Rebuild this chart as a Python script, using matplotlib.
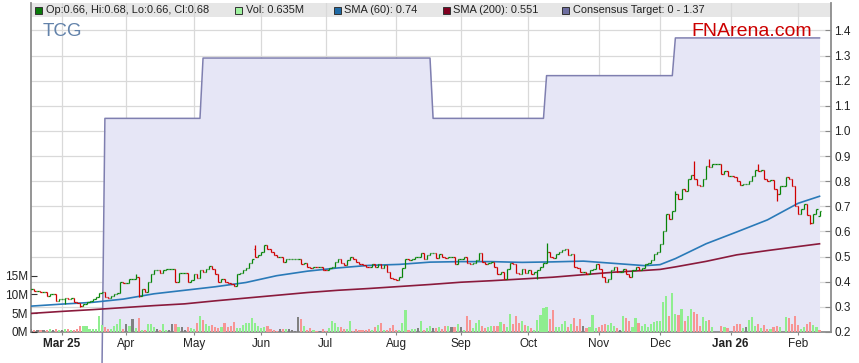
import numpy as np
import pandas as pd
import matplotlib
matplotlib.use('Agg')
import matplotlib.pyplot as plt
from matplotlib.patches import Rectangle

plt.rcParams['font.family'] = ['Liberation Sans', 'DejaVu Sans']

# trading days shown on the chart
dates = pd.bdate_range('2025-02-17', '2026-02-11')

# daily closes
close_feb25 = [0.37, 0.365, 0.365, 0.36, 0.36, 0.345, 0.35, 0.35, 0.325, 0.33]
close_mar25 = [0.33, 0.335, 0.33, 0.335, 0.32, 0.315, 0.305, 0.31, 0.32, 0.325, 0.33,
               0.34, 0.355, 0.36, 0.34, 0.335, 0.345, 0.35, 0.355, 0.40, 0.395]
close_apr25 = [0.395, 0.41, 0.41, 0.42, 0.345, 0.37, 0.36, 0.40, 0.43, 0.445, 0.445,
               0.435, 0.445, 0.45, 0.45, 0.45, 0.40, 0.435, 0.435, 0.435, 0.40, 0.405]
close_may25 = [0.43, 0.415, 0.445, 0.44, 0.45, 0.463, 0.45, 0.43, 0.40, 0.41, 0.40,
               0.395, 0.39, 0.385, 0.43, 0.435, 0.445, 0.455, 0.475, 0.49, 0.50, 0.505]
close_jun25 = [0.52, 0.545, 0.53, 0.52, 0.505, 0.50, 0.50, 0.48, 0.49, 0.49, 0.49,
               0.49, 0.49, 0.47, 0.475, 0.46, 0.455, 0.46, 0.457, 0.457, 0.447]
close_jul25 = [0.445, 0.455, 0.46, 0.48, 0.49, 0.475, 0.465, 0.485, 0.50, 0.49, 0.48,
               0.47, 0.465, 0.46, 0.458, 0.47, 0.46, 0.47, 0.455, 0.465, 0.44, 0.415, 0.41]
close_aug25 = [0.405, 0.42, 0.455, 0.49, 0.485, 0.49, 0.50, 0.50, 0.515, 0.49, 0.505,
               0.515, 0.515, 0.495, 0.51, 0.50, 0.495, 0.50, 0.50, 0.47, 0.49]
close_sep25 = [0.49, 0.50, 0.475, 0.47, 0.475, 0.485, 0.515, 0.48, 0.47, 0.475, 0.48,
               0.46, 0.43, 0.44, 0.41, 0.45, 0.475, 0.47, 0.435, 0.43, 0.45, 0.435]
close_oct25 = [0.445, 0.43, 0.44, 0.445, 0.46, 0.475, 0.52, 0.50, 0.495, 0.51, 0.52,
               0.525, 0.53, 0.505, 0.51, 0.46, 0.455, 0.44, 0.44, 0.43, 0.445, 0.45, 0.47]
close_nov25 = [0.45, 0.42, 0.40, 0.41, 0.445, 0.46, 0.44, 0.44, 0.45, 0.43, 0.42,
               0.445, 0.46, 0.445, 0.455, 0.47, 0.475, 0.485, 0.51, 0.52]
close_dec25 = [0.55, 0.60, 0.67, 0.65, 0.68, 0.75, 0.73, 0.77, 0.76, 0.81, 0.825,
               0.81, 0.785, 0.78, 0.81, 0.86, 0.855, 0.87, 0.87, 0.87, 0.83, 0.84, 0.82]
close_jan26 = [0.82, 0.815, 0.80, 0.785, 0.79, 0.79, 0.80, 0.82, 0.845, 0.84, 0.845,
               0.81, 0.80, 0.805, 0.77, 0.75, 0.78, 0.78, 0.815, 0.81, 0.78, 0.70]
close_feb26 = [0.67, 0.69, 0.71, 0.665, 0.635, 0.67, 0.69, 0.68]

# daily volume in millions of shares
vol_feb25 = [0.8, 0.6, 0.4, 0.4, 0.4, 0.5, 0.8, 0.4, 0.8, 0.4]
vol_mar25 = [0.4, 0.9, 0.9, 0.5, 0.4, 0.8, 1.5, 1.5, 1.5, 0.9, 0.9, 0.8, 4.3, 1.8,
             1.4, 0.8, 0.8, 1.5, 2.0, 3.4, 0.9]
vol_apr25 = [2.2, 1.5, 3.4, 1.0, 3.7, 0.4, 0.4, 2.2, 2.0, 1.2, 0.8, 0.6, 2.0, 0.5,
             0.4, 2.0, 2.2, 1.4, 1.3, 0.5, 1.3, 1.0]
vol_may25 = [0.7, 2.3, 4.3, 3.2, 2.1, 1.6, 1.8, 1.2, 1.1, 1.4, 2.3, 1.4, 1.6, 2.7,
             1.1, 1.1, 1.8, 2.3, 2.4, 3.8, 2.5, 1.5]
vol_jun25 = [1.0, 1.3, 1.5, 0.8, 0.5, 0.3, 0.8, 0.7, 0.8, 0.7, 0.4, 0.3, 3.9, 3.4,
             1.5, 0.4, 1.0, 0.5, 0.3, 0.3, 0.8]
vol_jul25 = [0.3, 1.0, 3.0, 2.5, 1.2, 1.3, 0.9, 0.8, 2.8, 0.3, 0.7, 0.5, 0.4, 0.4,
             0.7, 0.4, 1.3, 1.8, 2.3, 0.4, 0.6, 1.1, 1.8]
vol_aug25 = [0.5, 0.4, 2.4, 5.8, 0.6, 0.9, 0.8, 1.0, 2.8, 0.6, 1.0, 1.5, 1.1, 1.0,
             1.2, 0.8, 1.5, 1.5, 1.2, 1.4, 2.1]
vol_sep25 = [1.3, 0.5, 4.3, 3.2, 1.0, 2.5, 3.2, 1.5, 1.0, 1.2, 1.5, 1.5, 1.5, 2.6,
             2.2, 1.3, 4.9, 2.0, 4.3, 2.5, 2.8, 1.9]
vol_oct25 = [1.5, 1.0, 0.5, 3.2, 4.6, 6.3, 6.6, 3.4, 5.9, 1.3, 1.2, 2.0, 2.8, 1.3,
             2.0, 3.7, 1.6, 3.4, 1.6, 1.0, 1.2, 4.6, 1.0]
vol_nov25 = [1.3, 1.9, 2.0, 1.9, 2.5, 1.5, 1.1, 0.6, 4.2, 3.6, 3.0, 1.2, 3.8, 2.4,
             1.5, 2.0, 1.2, 2.0, 2.6, 2.8]
vol_dec25 = [3.0, 8.0, 9.7, 4.2, 10.3, 4.9, 4.4, 6.0, 3.0, 4.2, 6.2, 5.3, 4.7, 1.5,
             3.9, 2.9, 3.3, 1.3, 0.0, 0.0, 1.5, 1.2, 1.0]
vol_jan26 = [0.0, 1.5, 2.2, 2.0, 1.1, 1.3, 3.1, 3.9, 1.5, 2.0, 1.0, 1.8, 0.8, 0.8,
             1.4, 1.5, 1.2, 0.0, 3.9, 3.6, 2.1, 4.2]
vol_feb26 = [1.8, 0.9, 1.3, 2.1, 2.7, 1.8, 1.3, 0.635]

# days that opened away from the previous close
gap_open_dates = ['2025-05-29', '2026-02-11']
gap_open_values = [0.53, 0.66]
# intraday extremes beyond the open/close
wick_high_dates = ['2025-04-04', '2025-05-29', '2025-10-09', '2025-12-08',
                   '2025-12-16', '2025-12-23', '2026-01-14']
wick_high_values = [0.43, 0.545, 0.555, 0.76, 0.88, 0.89, 0.87]
wick_low_dates = ['2025-03-04', '2025-03-11', '2025-04-07', '2025-10-06',
                  '2026-01-22', '2026-02-06']
wick_low_values = [0.31, 0.30, 0.34, 0.41, 0.72, 0.63]

# moving averages
sma_dates = ['2025-02-17', '2025-03-03', '2025-03-17', '2025-03-31', '2025-04-14',
             '2025-04-28', '2025-05-12', '2025-05-26', '2025-06-09', '2025-06-23',
             '2025-07-07', '2025-07-21', '2025-08-04', '2025-08-18', '2025-09-01',
             '2025-09-15', '2025-09-29', '2025-10-13', '2025-10-27', '2025-11-10',
             '2025-11-24', '2025-12-01', '2025-12-08', '2025-12-22', '2026-01-05',
             '2026-01-19', '2026-02-02', '2026-02-11']
sma60 = [0.303, 0.311, 0.318, 0.331, 0.352, 0.366, 0.380, 0.397, 0.424, 0.442,
         0.455, 0.465, 0.469, 0.478, 0.480, 0.480, 0.477, 0.479, 0.482, 0.473,
         0.464, 0.468, 0.492, 0.551, 0.598, 0.646, 0.712, 0.740]
sma200 = [0.274, 0.282, 0.289, 0.297, 0.305, 0.312, 0.324, 0.335, 0.346, 0.357,
          0.366, 0.373, 0.381, 0.389, 0.398, 0.404, 0.411, 0.418, 0.428, 0.438,
          0.445, 0.449, 0.459, 0.481, 0.507, 0.524, 0.540, 0.551]

# consensus target changes
target_dates = ['2025-03-21', '2025-05-06', '2025-08-19', '2025-10-09', '2025-12-08']
target_levels = [1.05, 1.29, 1.05, 1.22, 1.37]

month_labels = ['Mar 25', 'Apr', 'May', 'Jun', 'Jul', 'Aug', 'Sep', 'Oct', 'Nov',
                'Dec', 'Jan 26', 'Feb']

closes = np.array(close_feb25 + close_mar25 + close_apr25 + close_may25 + close_jun25
                  + close_jul25 + close_aug25 + close_sep25 + close_oct25 + close_nov25
                  + close_dec25 + close_jan26 + close_feb26)
volume = np.array(vol_feb25 + vol_mar25 + vol_apr25 + vol_may25 + vol_jun25 + vol_jul25
                  + vol_aug25 + vol_sep25 + vol_oct25 + vol_nov25 + vol_dec25
                  + vol_jan26 + vol_feb26)
pos = np.arange(len(dates))

def where(ds):
    return dates.get_indexer(pd.to_datetime(ds))

opens = np.concatenate([[closes[0]], closes[:-1]])
opens[where(gap_open_dates)] = gap_open_values
highs = np.maximum(opens, closes)
lows = np.minimum(opens, closes)
highs[where(wick_high_dates)] = np.maximum(highs[where(wick_high_dates)], wick_high_values)
lows[where(wick_low_dates)] = np.minimum(lows[where(wick_low_dates)], wick_low_values)

target = np.zeros(len(dates))
for d, lvl in zip(target_dates, target_levels):
    target[pos >= where([d])[0]] = lvl

prev = np.concatenate([[closes[0]], closes[:-1]])
vol_colors = np.where(closes > prev, '#8fee8f', np.where(closes < prev, '#f79494', '#808080'))
bar_colors = np.where(closes >= opens, '#078407', '#d00000')

month_pos = [np.argmax((dates.year == y) & (dates.month == m))
             for y, m in [(2025, 3), (2025, 4), (2025, 5), (2025, 6), (2025, 7), (2025, 8),
                          (2025, 9), (2025, 10), (2025, 11), (2025, 12), (2026, 1), (2026, 2)]]

W, H = 859, 363
fig = plt.figure(figsize=(W / 100, H / 100), dpi=100)
ax = fig.add_axes([30.5 / W, 1 - 332 / H, 800.5 / W, 329 / H])
axv = ax.twinx()
axp = ax.twinx()

xmin = -0.26
xmax = 260.74
ymin, ymax = 0.2, 1.509
for a in (ax, axv, axp):
    a.set_xlim(xmin, xmax)
ax.set_ylim(ymin, ymax)
axp.set_ylim(ymin, ymax)
axv.set_ylim(0, 87.7)

# background: header band, grid, consensus area
ax.add_patch(Rectangle((0, 1 - 14 / 329), 1, 14 / 329, transform=ax.transAxes,
                       facecolor='#e6e6e6', edgecolor='none', zorder=0.3))
ax.set_axisbelow(True)
ax.grid(True, color='#d9d9d9', lw=0.9)
ax.fill_between(pos, 0, target, color='#e6e6f6', lw=0, zorder=1)
ax.plot(pos, target, color='#7f7fb0', lw=1.1, zorder=2, clip_on=False)

# volume
axv.bar(pos, volume, width=0.7, color=vol_colors, lw=0)

# moving averages and price bars
sp = where(sma_dates)
axp.plot(sp, sma200, color='#8a1a3c', lw=1.2)
axp.plot(sp, sma60, color='#2a7ab8', lw=1.2)
axp.vlines(pos, lows, highs, colors=bar_colors, lw=0.9)
axp.hlines(opens, pos - 0.45, pos, colors=bar_colors, lw=0.9)
axp.hlines(closes, pos, pos + 0.45, colors=bar_colors, lw=0.9)

# axes styling
ax.yaxis.tick_right()
ax.set_yticks(np.arange(0.2, 1.41, 0.1))
ax.set_yticklabels([f'{v:.1f}' for v in np.arange(0.2, 1.41, 0.1)])
ax.tick_params(axis='y', direction='in', length=4, pad=2.5, labelsize=8.5,
               colors='#888888', labelcolor='#222222')
ax.set_xticks(month_pos)
ax.set_xticklabels(month_labels)
ax.tick_params(axis='x', direction='out', length=2.5, pad=2, labelsize=8.5,
               colors='#888888', labelcolor='#222222')
for lbl in ax.get_xticklabels():
    if lbl.get_text() in ('Mar 25', 'Jan 26'):
        lbl.set_fontweight('bold')

axv.yaxis.tick_left()
axv.set_yticks([0, 5, 10, 15])
axv.set_yticklabels(['0M', '5M', '10M', '15M'])
axv.tick_params(axis='y', direction='in', length=4, pad=2, labelsize=8.5,
                colors='#333333', labelcolor='#222222')
axp.yaxis.set_visible(False)
axp.xaxis.set_visible(False)

for a in (axv, axp):
    for s in a.spines.values():
        s.set_visible(False)
ax.spines['top'].set_visible(False)
for s in ('left', 'right', 'bottom'):
    ax.spines[s].set_color('#8c8c8c')
    ax.spines[s].set_linewidth(1.3)

# header legend
legend_items = [
    (35, '#0a7a0a', 46, 'Op:0.66, Hi:0.68, Lo:0.66, Cl:0.68'),
    (235, '#9ff29f', 246, 'Vol: 0.635M'),
    (334, '#1f6aa5', 344, 'SMA (60): 0.74'),
    (443, '#800020', 453, 'SMA (200): 0.551'),
    (562, '#6e6ea0', 573, 'Consensus Target: 0 - 1.37'),
]
for sx, col, tx, txt in legend_items:
    fig.patches.append(Rectangle((sx / W, 1 - 13.5 / H), 7 / W, 7 / H,
                                 transform=fig.transFigure, facecolor=col,
                                 edgecolor='#333333', lw=0.7))
    fig.text(tx / W, 1 - 10 / H, txt, fontsize=7.9, color='#222222', va='center')

fig.text(42.5 / W, 1 - 31.5 / H, 'TCG', fontsize=13.5, color='#6282aa', va='center')
fig.text(691 / W, 1 - 32 / H, 'FNArena.com', fontsize=14, color='#cc0000', va='center')

fig.savefig('out.png', dpi=100)
